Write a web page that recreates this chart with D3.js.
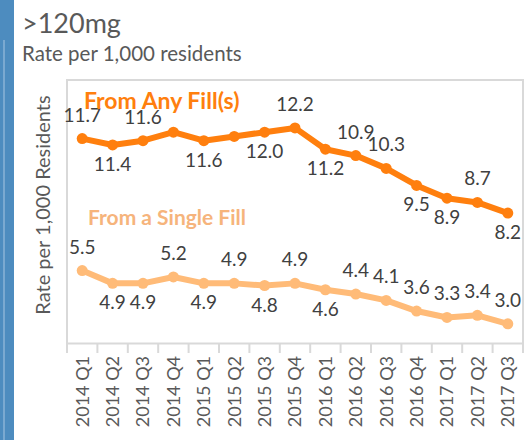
<!DOCTYPE html>
<html>
<head>
<meta charset="utf-8">
<script src="https://cdn.jsdelivr.net/npm/d3@7"></script>
<style>
  body { margin: 0; background: #fff; }
  svg { display: block; font-family: Lato, "Open Sans", sans-serif; }
</style>
</head>
<body>
<div id="chart"></div>
<script>
const quarters = ["2014 Q1", "2014 Q2", "2014 Q3", "2014 Q4", "2015 Q1", "2015 Q2", "2015 Q3", "2015 Q4",
    "2016 Q1", "2016 Q2", "2016 Q3", "2016 Q4", "2017 Q1", "2017 Q2", "2017 Q3"];
const anyFill = [11.7, 11.4, 11.6, 12.0, 11.6, 11.8, 12.0, 12.2, 11.2, 10.9, 10.3, 9.5, 8.9, 8.7, 8.2];
const singleFill = [5.5, 4.9, 4.9, 5.2, 4.9, 4.9, 4.8, 4.9, 4.6, 4.4, 4.1, 3.6, 3.3, 3.4, 3.0];
// where each value label sits: a = above, b = below, "" = not shown
const anyFillLabelPos = ["a", "b", "a", "", "b", "", "b", "a", "b", "a", "a", "b", "b", "a", "b"];
const singleFillLabelPos = ["a", "b", "b", "a", "b", "a", "b", "a", "b", "a", "a", "a", "a", "a", "a"];

const width = 532, height = 440;
const plot = { left: 67, right: 523, top: 80, bottom: 343 };

const svg = d3.select("#chart").append("svg")
    .attr("width", width)
    .attr("height", height);

// blue strip on the left
svg.append("rect").attr("x", 0).attr("y", 0).attr("width", 14).attr("height", height).attr("fill", "#4d8cbf");
svg.append("line").attr("x1", 4).attr("x2", 4).attr("y1", 40).attr("y2", height)
    .attr("stroke", "#a8c6e2").attr("stroke-width", 1);

svg.append("text").attr("x", 22).attr("y", 33)
    .attr("font-size", 27).attr("fill", "#595959").text(">120mg");
svg.append("text").attr("x", 22).attr("y", 61)
    .attr("font-size", 20.5).attr("fill", "#595959").text("Rate per 1,000 residents");

const x = d3.scaleBand().domain(quarters).range([plot.left, plot.right]);
const y = d3.scaleLinear().domain([2.1, 14.45]).range([plot.bottom, plot.top]);

// plot frame
svg.append("path")
    .attr("d", `M${plot.left},${plot.bottom}V${plot.top}H${plot.right}V${plot.bottom}`)
    .attr("fill", "none").attr("stroke", "#d9d9d9").attr("stroke-width", 2);

// x axis
const xAxis = svg.append("g")
    .attr("transform", `translate(0,${plot.bottom})`)
    .call(d3.axisBottom(x).tickSize(0).tickPadding(0));
xAxis.select(".domain").attr("stroke", "#d9d9d9").attr("stroke-width", 2);
xAxis.selectAll(".tick text")
    .attr("font-family", "Lato, sans-serif")
    .attr("font-size", 18)
    .attr("fill", "#595959")
    .attr("text-anchor", "end")
    .attr("transform", "translate(0,13) rotate(-90)")
    .attr("x", 0).attr("y", 0).attr("dy", "0.36em");

svg.append("g").selectAll("line")
    .data(quarters.map(q => x(q)).concat([x(quarters[quarters.length - 1]) + x.bandwidth()]))
    .join("line")
    .attr("x1", d => d).attr("x2", d => d)
    .attr("y1", plot.bottom).attr("y2", plot.bottom + 10)
    .attr("stroke", "#d9d9d9").attr("stroke-width", 2);

// y axis title
svg.append("text")
    .attr("transform", "translate(50,205) rotate(-90)")
    .attr("text-anchor", "middle")
    .attr("font-size", 20).attr("fill", "#595959")
    .text("Rate per 1,000 Residents");

function drawSeries(values, labelPos, color) {
    const pts = values.map((v, i) => ({ q: quarters[i], v: v, pos: labelPos[i] }));
    const cx = d => x(d.q) + x.bandwidth() / 2;
    const line = d3.line().x(cx).y(d => y(d.v));
    svg.append("path").datum(pts)
        .attr("d", line).attr("fill", "none")
        .attr("stroke", color).attr("stroke-width", 6).attr("stroke-linejoin", "round");
    svg.append("g").selectAll("circle").data(pts).join("circle")
        .attr("cx", cx).attr("cy", d => y(d.v)).attr("r", 5.5).attr("fill", color);
    svg.append("g").selectAll("text").data(pts.filter(d => d.pos !== "")).join("text")
        .attr("x", cx)
        .attr("y", d => d.pos === "a" ? y(d.v) - 17 : y(d.v) + 26)
        .attr("text-anchor", "middle")
        .attr("font-size", 19).attr("fill", "#404040")
        .text(d => d.v.toFixed(1));
}

drawSeries(singleFill, singleFillLabelPos, "#ffbb78");
drawSeries(anyFill, anyFillLabelPos, "#ff7f0e");

svg.append("text").attr("x", 84).attr("y", 109)
    .attr("font-size", 23).attr("font-weight", "bold").attr("fill", "#ff7f0e")
    .text("From Any Fill(s)");
svg.append("text").attr("x", 88).attr("y", 225)
    .attr("font-size", 21).attr("font-weight", "bold").attr("fill", "#f6b47c")
    .text("From a Single Fill");
</script>
</body>
</html>
